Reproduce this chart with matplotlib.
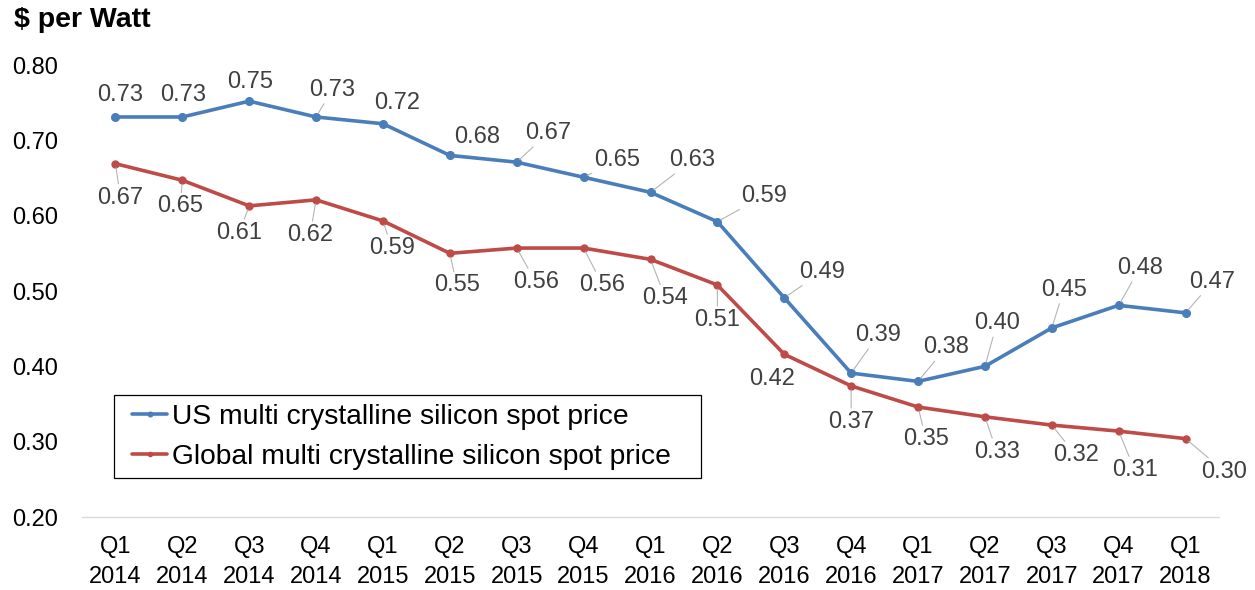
import matplotlib
matplotlib.use("Agg")
import matplotlib.pyplot as plt
from matplotlib.patches import Rectangle

plt.rcParams['font.family'] = ['Liberation Sans', 'DejaVu Sans']

quarters = ["Q1\n2014", "Q2\n2014", "Q3\n2014", "Q4\n2014",
            "Q1\n2015", "Q2\n2015", "Q3\n2015", "Q4\n2015",
            "Q1\n2016", "Q2\n2016", "Q3\n2016", "Q4\n2016",
            "Q1\n2017", "Q2\n2017", "Q3\n2017", "Q4\n2017", "Q1\n2018"]
us_price = [0.731, 0.731, 0.752, 0.731, 0.722, 0.680, 0.671, 0.651, 0.631,
            0.592, 0.491, 0.391, 0.380, 0.400, 0.451, 0.481, 0.471]
global_price = [0.669, 0.647, 0.613, 0.621, 0.593, 0.550, 0.557, 0.557, 0.542,
                0.508, 0.416, 0.374, 0.346, 0.333, 0.322, 0.314, 0.304]
series_names = ["US multi crystalline silicon spot price",
                "Global multi crystalline silicon spot price"]
y_ticks = [0.20, 0.30, 0.40, 0.50, 0.60, 0.70, 0.80]

# label offsets in pixels (dx, dy downward) and leader flags -- layout only
us_off = [(5, -22), (1, -22), (1, -19), (16, -27), (14, -21), (27, -18), (31, -29),
          (34, -17), (42, -32), (47, -26), (38, -26), (27, -38), (28, -34),
          (12, -43), (12, -38), (21, -37), (27, -31)]
us_lead = [0, 0, 0, 1, 0, 0, 1, 1, 1, 1, 1, 1, 1, 1, 1, 1, 1]
gl_off = [(5, 34), (-2, 26), (-10, 27), (-6, 35), (9, 27), (7, 32), (19, 34),
          (19, 37), (15, 39), (0, 35), (-12, 25), (0, 36), (8, 32), (12, 35),
          (24, 30), (16, 39), (39, 33)]
gl_lead = [1, 1, 1, 1, 1, 1, 1, 1, 1, 1, 0, 1, 1, 1, 1, 1, 1]

W, H = 1255, 590
fig = plt.figure(figsize=(W / 100, H / 100), dpi=100)
ax = fig.add_axes([82 / W, 1 - 517 / H, (1219 - 82) / W, (517 - 65) / H])

blue = "#4A7EBB"
red = "#BE4B48"
x = list(range(len(quarters)))
ax.plot(x, us_price, color=blue, lw=2.6, marker='o', ms=5.5, label=series_names[0],
        solid_capstyle='round', zorder=3)
ax.plot(x, global_price, color=red, lw=2.6, marker='o', ms=5, label=series_names[1],
        solid_capstyle='round', zorder=3)

ax.set_xlim(-0.5, len(quarters) - 0.5)
ax.set_ylim(0.2, 0.8)
ax.set_yticks(y_ticks)
ax.set_yticklabels([f"{v:.2f}" for v in y_ticks])
ax.set_xticks(x)
ax.set_xticklabels(quarters, linespacing=1.45)
ax.tick_params(axis='both', length=0, labelsize=17, colors='black')
ax.tick_params(axis='y', pad=17)
ax.tick_params(axis='x', pad=14)
for s in ['top', 'right', 'left']:
    ax.spines[s].set_visible(False)
ax.spines['bottom'].set_color('#D9D9D9')
ax.spines['bottom'].set_linewidth(1.0)

px = 72 / 100.0
def label(vals, offs, leads):
    for i, (v, (dx, dy), ld) in enumerate(zip(vals, offs, leads)):
        kw = {}
        if ld:
            kw['arrowprops'] = dict(arrowstyle='-', color='#B4B4B4', lw=0.8,
                                    shrinkA=0, shrinkB=3)
        ax.annotate(f"{v:.2f}", xy=(i, v), xytext=(dx * px, -dy * px),
                    textcoords='offset points', ha='center', va='center',
                    fontsize=17, color='#404040', zorder=4, **kw)

label(us_price, us_off, us_lead)
label(global_price, gl_off, gl_lead)

leg = ax.legend(loc='center left', bbox_to_anchor=(132 / W, 1 - 437 / H),
                bbox_transform=fig.transFigure, fontsize=20.3, frameon=False,
                handlelength=1.25, handletextpad=0.18, borderpad=0,
                labelspacing=0.52, borderaxespad=0, markerscale=0.6)
fig.patches.append(Rectangle((114 / W, 1 - 478 / H), (701 - 114) / W, (478 - 395) / H,
                             transform=fig.transFigure, fill=False,
                             edgecolor='black', lw=0.9, zorder=5))

fig.text(14 / W, 1 - 20 / H, "$ per Watt", fontsize=20.5, fontweight='bold',
         ha='left', va='center')

fig.savefig("out.png", dpi=100)
